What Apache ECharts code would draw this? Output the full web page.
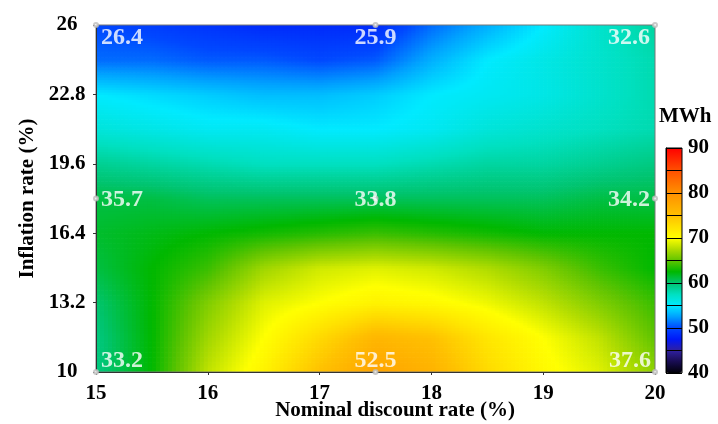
<!DOCTYPE html>
<html>
<head>
<meta charset="utf-8">
<script src="https://cdn.jsdelivr.net/npm/echarts@6/dist/echarts.min.js"></script>
<style>html,body{margin:0;padding:0;background:#fff;}#c{width:718px;height:424px;}</style>
</head>
<body>
<div id="c"></div>
<script>
// ---- data ----
const xNodes = [15, 15.5, 16, 16.5, 17, 17.5, 18, 18.5, 19, 19.5, 20];
const yNodes = [10, 11.6, 13.2, 14.8, 16.4, 18, 19.6, 21.2, 22.8, 24.4, 26];
// estimated colour-scale values (MWh), one row per yNode (bottom to top)
const z_10_0 = [59.5, 62.5, 68, 71, 75, 78, 76.5, 73, 70.5, 69, 66.5];
const z_11_6 = [59.5, 62.5, 67, 70, 73, 76, 75, 72, 70, 68, 65];
const z_13_2 = [60, 62.5, 66, 69, 70, 71, 70.5, 69.5, 68, 66, 64];
const z_14_8 = [61, 62.5, 64, 67, 68.5, 69, 68.5, 67.5, 66, 64, 62.5];
const z_16_4 = [61.5, 62, 62.5, 63, 63.5, 64, 63.5, 63, 62.5, 62.5, 62.5];
const z_18_0 = [61, 61, 60.5, 60.5, 60.5, 60.5, 60.5, 60.5, 60.5, 61, 61];
const z_19_6 = [59, 58.5, 58, 57.5, 57.5, 57.5, 58, 58.5, 58.5, 59, 59.5];
const z_21_2 = [56.5, 56, 55.5, 55.5, 55, 55, 55.5, 56.5, 57, 57.5, 58];
const z_22_8 = [55, 54.5, 54, 53.5, 53.5, 54, 55, 55.5, 56, 57, 58];
const z_24_4 = [51, 51, 50.5, 50.5, 50, 50.5, 53, 55, 56, 57, 58];
const z_26_0 = [50, 49.5, 49, 48.5, 48.5, 48.5, 51, 53, 55, 57, 58.5];
const zRows = [z_10_0, z_11_6, z_13_2, z_14_8, z_16_4, z_18_0, z_19_6, z_21_2, z_22_8, z_24_4, z_26_0];

// labelled points
const ptX = [15, 17.5, 20, 15, 17.5, 20, 15, 17.5, 20];
const ptY = [26, 26, 26, 18, 18, 18, 10, 10, 10];
const ptVal = ['26.4', '25.9', '32.6', '35.7', '33.8', '34.2', '33.2', '52.5', '37.6'];

const yTickInterval = 3.2;
const scaleMin = 40, scaleMax = 90;

// ---- colour scale (style) ----
const cmap = ['#000008','#180c50','#3020a0','#0018f8','#0048ff','#00a0ff','#00eaff','#00e0c0','#00c470','#00b800',
  '#60c400','#b0dc00','#ffff00','#ffe000','#ffc000','#ffa800','#ff9000','#ff7000','#ff5000','#ff2800','#ff0000'];
const cmapRGB = cmap.map(h => [parseInt(h.substr(1,2),16), parseInt(h.substr(3,2),16), parseInt(h.substr(5,2),16)]);
function colorAt(z) {
  let t = (z - scaleMin) / (scaleMax - scaleMin) * (cmap.length - 1);
  t = Math.max(0, Math.min(cmap.length - 1, t));
  const i = Math.min(cmap.length - 2, Math.floor(t));
  const f = t - i;
  const a = cmapRGB[i], b = cmapRGB[i + 1];
  return 'rgb(' + Math.round(a[0] + (b[0]-a[0])*f) + ',' + Math.round(a[1] + (b[1]-a[1])*f) + ',' + Math.round(a[2] + (b[2]-a[2])*f) + ')';
}

// cells built from the node arrays
const cells = [];
for (let j = 0; j < yNodes.length - 1; j++) {
  for (let i = 0; i < xNodes.length - 1; i++) {
    cells.push([xNodes[i], yNodes[j], xNodes[i+1], yNodes[j+1],
      zRows[j][i], zRows[j][i+1], zRows[j+1][i], zRows[j+1][i+1]]);
  }
}
const SUB = 14;
function renderCell(params, api) {
  const p0 = api.coord([api.value(0), api.value(1)]);
  const p1 = api.coord([api.value(2), api.value(3)]);
  const z00 = api.value(4), z10 = api.value(5), z01 = api.value(6), z11 = api.value(7);
  const w = (p1[0] - p0[0]) / SUB, h = (p0[1] - p1[1]) / SUB;
  const children = [];
  for (let a = 0; a < SUB; a++) {
    for (let b = 0; b < SUB; b++) {
      const u = (a + 0.5) / SUB, v = (b + 0.5) / SUB;
      const z = z00*(1-u)*(1-v) + z10*u*(1-v) + z01*(1-u)*v + z11*u*v;
      children.push({
        type: 'rect',
        shape: { x: p0[0] + a*w, y: p0[1] - (b+1)*h, width: w + 0.7, height: h + 0.7 },
        style: { fill: colorAt(z) },
        silent: true
      });
    }
  }
  return { type: 'group', children: children };
}

const FONT = '"Liberation Serif", "Times New Roman", serif';
const labelCfg = [
  {align:'left', verticalAlign:'top', offset:[5, 1]},
  {align:'center', verticalAlign:'top', offset:[0, 1]},
  {align:'right', verticalAlign:'top', offset:[-5, 1]},
  {align:'left', verticalAlign:'middle', offset:[5, 1]},
  {align:'center', verticalAlign:'middle', offset:[0, 1]},
  {align:'right', verticalAlign:'middle', offset:[-5, 1]},
  {align:'left', verticalAlign:'bottom', offset:[5, 1]},
  {align:'center', verticalAlign:'bottom', offset:[0, 1]},
  {align:'right', verticalAlign:'bottom', offset:[-4, 1]}
];
const points = ptX.map((x, k) => ({
  value: [x, ptY[k]],
  label: Object.assign({ show: true, position: 'inside', formatter: ptVal[k] }, labelCfg[k])
}));

const chart = echarts.init(document.getElementById('c'), null, { renderer: 'canvas' });
chart.setOption({
  animation: false,
  backgroundColor: '#fff',
  title: {
    text: 'MWh', left: 659, top: 106, padding: 0,
    textStyle: { fontFamily: FONT, fontWeight: 'bold', fontSize: 21, color: '#000' }
  },
  grid: [
    { left: 96, top: 25, width: 559, height: 347, containLabel: false, outerBoundsMode: 'none',
      show: true, borderColor: '#777', borderWidth: 1, backgroundColor: 'transparent', z: 5 },
    { left: 666, top: 148, width: 16, height: 225, containLabel: false, outerBoundsMode: 'none',
      show: true, borderColor: '#000', borderWidth: 1, z: 10 }
  ],
  xAxis: [
    {
      type: 'value', min: 15, max: 20, interval: 1, gridIndex: 0,
      name: 'Nominal discount rate (%)', nameLocation: 'middle', nameGap: 28, nameMoveOverlap: false,
      nameTextStyle: { fontFamily: FONT, fontWeight: 'bold', fontSize: 21, color: '#000', padding: [0, 0, 0, 39] },
      axisLine: { show: true, lineStyle: { color: '#333', width: 1 } },
      axisTick: { show: true, length: 3, lineStyle: { color: '#333' } },
      splitLine: { show: false },
      axisLabel: { margin: 11, fontFamily: FONT, fontWeight: 'bold', fontSize: 21, color: '#000' },
      z: 6
    },
    { type: 'value', gridIndex: 1, min: 0, max: 1, show: false }
  ],
  yAxis: [
    {
      type: 'value', min: 10, max: 26, interval: yTickInterval, gridIndex: 0,
      name: 'Inflation rate (%)', nameLocation: 'middle', nameGap: 58, nameMoveOverlap: false,
      nameTextStyle: { fontFamily: FONT, fontWeight: 'bold', fontSize: 21, color: '#000' },
      axisLine: { show: true, lineStyle: { color: '#333', width: 1 } },
      axisTick: { show: true, length: 3, lineStyle: { color: '#333' } },
      splitLine: { show: false },
      axisLabel: { margin: 29, align: 'center', fontFamily: FONT, fontWeight: 'bold', fontSize: 21, color: '#000',
        formatter: v => (Math.round(v * 10) / 10).toString() },
      z: 6
    },
    {
      type: 'value', gridIndex: 1, min: scaleMin, max: scaleMax, interval: 5, position: 'right',
      axisLine: { show: true, lineStyle: { color: '#000' } },
      axisTick: { show: true, length: 2, lineStyle: { color: '#000' } },
      splitLine: { show: true, lineStyle: { color: '#000', width: 1 } },
      axisLabel: { margin: 6, fontFamily: FONT, fontWeight: 'bold', fontSize: 21, color: '#000',
        formatter: v => (v % 10 === 0 ? String(v) : '') },
      z: 10
    }
  ],
  visualMap: {
    type: 'continuous', min: scaleMin, max: scaleMax, seriesIndex: 0, dimension: 4,
    calculable: false, show: true, left: 666, top: 148, itemWidth: 16, itemHeight: 225,
    padding: 0, text: null, showLabel: false, realtime: false, hoverLink: false,
    inRange: { color: cmap }, z: 4
  },
  series: [
    {
      type: 'custom', xAxisIndex: 0, yAxisIndex: 0, renderItem: renderCell, data: cells, clip: true, silent: true, z: 1
    },
    {
      type: 'scatter', xAxisIndex: 0, yAxisIndex: 0, symbol: 'emptyCircle', symbolSize: 4,
      itemStyle: { color: '#bbb', borderColor: '#bbb', opacity: 0.8 }, silent: true, z: 8,
      label: { color: '#fff', fontFamily: FONT, fontWeight: 'bold', fontSize: 24 },
      data: points
    }
  ]
});
</script>
</body>
</html>
